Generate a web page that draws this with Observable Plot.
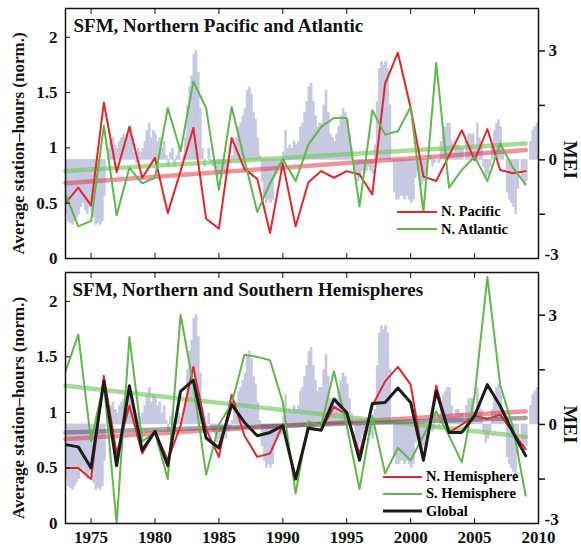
<!DOCTYPE html>
<html><head><meta charset="utf-8">
<script src="https://cdn.jsdelivr.net/npm/d3@7"></script>
<script src="https://cdn.jsdelivr.net/npm/@observablehq/plot@0.6"></script>
<style>
body{margin:0;background:#fff;}
#wrap{position:relative;width:581px;height:549px;font-family:"Liberation Serif","Times New Roman",serif;font-weight:bold;}
#wrap svg{display:block;}
.lg{position:absolute;font-size:14.5px;white-space:nowrap;}
.lg div{display:flex;align-items:center;}
.lg svg{display:inline-block;margin-right:4px;}
</style></head>
<body><div id="wrap"></div>
<script>
// ---------- data ----------
const years = [1973,1974,1975,1976,1977,1978,1979,1980,1981,1982,1983,1984,1985,1986,1987,1988,1989,1990,1991,1992,1993,1994,1995,1996,1997,1998,1999,2000,2001,2002,2003,2004,2005,2006,2007,2008,2009];
const nPacific   = [0.50,0.64,0.48,1.41,0.78,1.19,0.73,0.91,0.41,0.79,1.18,0.36,0.27,1.09,0.81,0.72,0.23,0.86,0.29,0.69,0.79,0.73,0.79,0.76,0.58,1.58,1.86,1.36,0.74,0.70,0.93,1.16,0.89,1.17,0.80,0.77,0.79];
const nAtlantic  = [0.58,0.29,0.34,1.20,0.39,0.82,0.68,0.73,1.36,0.97,1.60,1.36,0.62,1.37,0.89,0.42,0.68,0.90,0.70,1.03,1.19,1.27,1.27,0.47,1.34,1.12,1.15,1.37,0.42,1.77,0.64,0.80,0.92,0.70,1.04,0.82,0.67];
const nHemisphere= [0.50,0.50,0.40,1.33,0.63,1.06,0.63,0.83,0.57,0.88,1.41,0.85,0.60,1.16,0.79,0.60,0.63,0.89,0.40,0.85,0.84,1.05,0.98,0.63,1.06,1.28,1.41,1.25,0.57,1.24,0.82,0.89,0.97,0.94,0.98,0.82,0.67];
const sHemisphere= [1.37,1.70,0.74,1.27,0.00,1.68,0.74,0.82,0.40,1.88,1.25,0.44,0.89,1.08,1.52,1.50,1.47,1.09,0.27,0.92,0.88,1.37,0.88,0.31,0.97,0.45,0.68,0.57,0.79,1.01,0.79,0.55,1.15,2.22,1.25,0.87,0.25];
const globalSFM  = [0.71,0.69,0.50,1.28,0.52,1.24,0.66,0.83,0.52,1.19,1.29,0.77,0.68,1.07,0.91,0.79,0.82,0.88,0.40,0.86,0.84,1.12,1.00,0.57,1.08,1.09,1.22,1.09,0.57,1.19,0.82,0.82,0.97,1.25,1.06,0.82,0.61];
// linear trend lines, values at first and last year
const trendYears = [1973, 2009];
const nPacificTrend    = [0.68, 0.98];
const nAtlanticTrend   = [0.79, 1.04];
const nHemisphereTrend = [0.76, 1.01];
const sHemisphereTrend = [1.24, 0.78];
const globalTrend      = [0.82, 0.95];
// MEI, six bi-monthly values per year
const meiYears = years;
const meiValues = [
 [-1.5,-1.7,-1.75,-1.8,-1.7,-1.6],
 [-1.5,-1.3,-1.2,-1.4,-1.5,-1.3],
 [-1.4,-1.6,-1.8,-1.75,-1.8,-1.7],
 [-1.0,0.0,0.3,0.5,0.6,0.4],
 [0.3,0.5,0.6,0.7,0.5,0.7],
 [0.9,0.6,0.2,-0.1,0.3,0.2],
 [0.3,0.5,0.8,1.0,0.6,0.8],
 [0.7,0.5,0.6,0.3,0.5,0.1],
 [-0.2,0.2,0.3,-0.2,0.1,0.3],
 [0.0,0.1,0.6,1.5,2.0,2.3],
 [2.9,3.0,2.4,1.4,0.3,-0.2],
 [0.0,0.3,-0.1,-0.2,-0.3,-0.5],
 [-0.4,-0.5,-0.3,-0.4,-0.2,-0.1],
 [0.1,0.4,0.6,0.9,1.0,1.2],
 [1.4,1.9,2.0,1.8,1.3,1.1],
 [0.6,0.1,-0.6,-1.0,-1.2,-1.1],
 [-1.2,-1.1,-0.5,-0.4,-0.2,-0.3],
 [0.2,0.8,0.3,0.4,0.3,0.5],
 [0.4,0.5,0.9,1.0,1.3,1.6],
 [2.0,2.1,1.6,1.2,0.9,1.0],
 [1.0,1.5,1.9,1.3,0.7,0.6],
 [0.5,0.7,0.9,1.2,1.4,1.3],
 [1.1,0.7,0.3,0.0,-0.4,-0.6],
 [-0.5,-0.3,-0.4,-0.3,-0.2,-0.3],
 [-0.4,0.4,1.6,2.5,2.7,2.6],
 [2.7,2.5,1.5,0.0,-0.9,-1.1],
 [-1.1,-1.0,-1.0,-1.1,-1.0,-1.1],
 [-1.2,-1.1,-0.5,-0.3,-0.5,-0.7],
 [-0.6,-0.4,0.0,0.1,-0.2,-0.1],
 [0.0,-0.1,0.5,0.8,0.9,1.0],
 [1.0,0.5,0.2,0.4,0.4,0.3],
 [0.3,0.0,0.5,0.7,0.7,0.7],
 [0.3,1.0,0.6,0.4,-0.2,-0.5],
 [-0.4,-0.2,0.4,0.8,1.0,1.1],
 [0.9,0.2,0.0,-0.9,-1.1,-1.2],
 [-1.3,-1.5,-0.8,0.0,-0.5,-0.7],
 [-0.6,0.0,0.5,0.8,0.9,1.0]
];
const xTicks = [1975,1980,1985,1990,1995,2000,2005,2010];
const yTicks = [0,0.5,1,1.5,2];
const meiTicks = [3,1.5,0,-1.5];
const meiLabeled = [3,0];
const titles = ["SFM, Northern Pacific and Atlantic","SFM, Northern and Southern Hemispheres"];
const yLabel = "Average station\u2013hours (norm.)";

// ---------- build ----------
const FONT = "Liberation Serif";
const meiOffset = 0.892, meiScale = 0.328;
const toLeft = m => meiOffset + meiScale * m;
const mei = meiValues.flatMap((row, i) => row.map((v, k) => ({t: meiYears[i] + k / row.length, t2: meiYears[i] + (k + 1) / row.length, v})));
const tab = arr => years.map((year, i) => ({year, v: arr[i]}));
const ttab = arr => trendYears.map((year, i) => ({year, v: arr[i]}));

const RED = "#e4262c", GREEN = "#5fb84a", BLACK = "#1c1c1c";

function panel({height, marginTop, marginBottom, title, series, showX, titleDx}) {
  const marks = [
    Plot.rect(mei, {x1: "t", x2: "t2", y1: toLeft(0), y2: d => toLeft(d.v), fill: "#c6c8e2", stroke: "#c6c8e2", strokeWidth: 0.5, clip: true}),
    ...series.map(s => Plot.line(ttab(s.trendValues), {x: "year", y: "v", stroke: s.trend, strokeWidth: 4.5, strokeOpacity: s.trendOpacity})),
    ...series.map(s => Plot.line(tab(s.values), {x: "year", y: "v", stroke: s.color, strokeWidth: s.width, clip: true})),
    Plot.frame({stroke: "#111", strokeWidth: 1.5}),
    Plot.axisY({ticks: yTicks, tickSize: 0, tickPadding: 8, tickFormat: d => String(d), fontSize: 17, label: null}),
    Plot.axisY({ticks: yTicks, tickSize: -5, tickFormat: () => "", label: null}),
    Plot.axisY(meiTicks.map(toLeft), {anchor: "right", tickSize: 6, tickPadding: 4, strokeWidth: 1.5, fontSize: 17, label: null,
      tickFormat: v => { const m = Math.round((v - meiOffset) / meiScale * 10) / 10; return meiLabeled.includes(m) ? String(m) : ""; }}),
    Plot.text(["-3"], {text: d => d, frameAnchor: "bottom-right", dx: 6, dy: -4, textAnchor: "start", lineAnchor: "middle", fontSize: 17}),
    Plot.axisX({ticks: xTicks, tickSize: -5, tickFormat: () => "", label: null}),
    Plot.axisX({anchor: "top", ticks: xTicks, tickSize: -5, tickFormat: () => "", label: null}),
    Plot.text([title], {text: d => d, frameAnchor: "top-left", dx: titleDx, dy: 23, textAnchor: "start", lineAnchor: "bottom", fontSize: 19}),
    Plot.text([yLabel], {text: d => d, frameAnchor: "left", textAnchor: "middle", rotate: -90, dx: -47, dy: 10, fontSize: 17}),
    Plot.text(["MEI"], {text: d => d, y: () => toLeft(0), frameAnchor: "right", textAnchor: "middle", rotate: 90, dx: 32, fontSize: 19})
  ];
  if (showX) marks.push(Plot.axisX({ticks: xTicks, tickSize: 0, tickPadding: 7, tickFormat: d => String(d), fontSize: 17, label: null}));
  return Plot.plot({
    width: 581, height, marginLeft: 65, marginRight: 43, marginTop, marginBottom,
    x: {domain: [1973, 2010], label: null, axis: showX ? undefined : null},
    y: {domain: [0, 2.26], label: null},
    style: {fontFamily: FONT, fontWeight: "bold", fontSize: "15px", background: "#fff", overflow: "visible", color: "#111"},
    marks
  });
}

const wrap = document.getElementById("wrap");
wrap.appendChild(panel({height: 265, marginTop: 8, marginBottom: 7, title: titles[0], showX: false, titleDx: 8,
  series: [
    {values: nPacific, trendValues: nPacificTrend, color: RED, width: 2, trend: "#e23a4c", trendOpacity: 0.55},
    {values: nAtlantic, trendValues: nAtlanticTrend, color: GREEN, width: 2, trend: "#74c760", trendOpacity: 0.65}
  ]}));
wrap.appendChild(panel({height: 284, marginTop: 7, marginBottom: 26, title: titles[1], showX: true, titleDx: 7,
  series: [
    {values: nHemisphere, trendValues: nHemisphereTrend, color: RED, width: 2, trend: "#e23a4c", trendOpacity: 0.55},
    {values: sHemisphere, trendValues: sHemisphereTrend, color: GREEN, width: 2, trend: "#74c760", trendOpacity: 0.65},
    {values: globalSFM, trendValues: globalTrend, color: BLACK, width: 3, trend: "#555", trendOpacity: 0.55}
  ]}));

function legend(items, left, top, step, len) {
  const d = document.createElement("div");
  d.className = "lg";
  d.style.left = left + "px"; d.style.top = top + "px";
  for (const it of items) {
    const r = document.createElement("div");
    r.style.height = step + "px";
    r.innerHTML = `<svg width="${len}" height="6"><line x1="0" x2="${len}" y1="3" y2="3" stroke="${it.color}" stroke-width="${it.width}"/></svg><span>${it.label}</span>`;
    d.appendChild(r);
  }
  wrap.appendChild(d);
}
legend([{label: "N. Pacific", color: RED, width: 2}, {label: "N. Atlantic", color: GREEN, width: 2}], 397, 203, 17.5, 40);
legend([{label: "N. Hemisphere", color: RED, width: 2}, {label: "S. Hemisphere", color: GREEN, width: 2}, {label: "Global", color: BLACK, width: 3}], 383, 468, 17.3, 39);
</script>
</body></html>
